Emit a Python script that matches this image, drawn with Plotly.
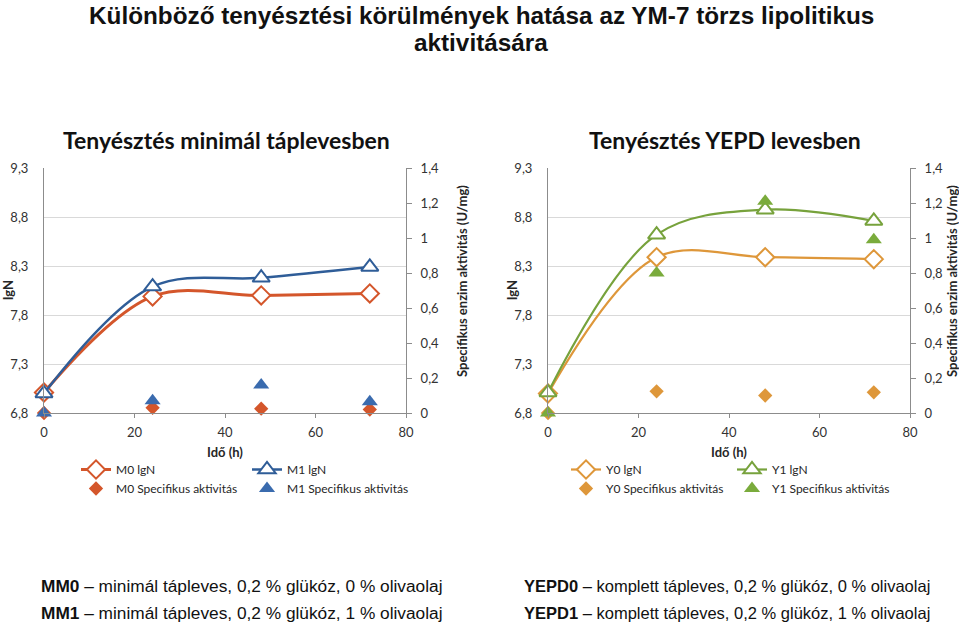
import plotly.graph_objects as go

# ---- data ----
time_h = [0, 24, 48, 72]
M0_lgN = [7.01, 7.99, 8.00, 8.02]
M1_lgN = [7.00, 8.09, 8.18, 8.29]
M0_spec = [0.0, 0.03, 0.025, 0.02]
M1_spec = [0.0, 0.07, 0.16, 0.065]
Y0_lgN = [7.00, 8.39, 8.39, 8.37]
Y1_lgN = [7.01, 8.62, 8.875, 8.76]
Y0_spec = [0.0, 0.124, 0.10, 0.118]
Y1_spec = [0.0, 0.80, 1.21, 0.99]

lgN_ticks = [6.8, 7.3, 7.8, 8.3, 8.8, 9.3]
spec_ticks = [0, 0.2, 0.4, 0.6, 0.8, 1.0, 1.2, 1.4]
x_ticks = [0, 20, 40, 60, 80]

title_lines = ["Különböző tenyésztési körülmények hatása az YM-7 törzs lipolitikus",
               "aktivitására"]
sub_left = "Tenyésztés minimál táplevesben"
sub_right = "Tenyésztés YEPD levesben"
y_title = "lgN"
y2_title = "Specifikus enzim aktivitás (U/mg)"
x_title = "Idő (h)"
notes_left = ["<b>MM0</b> – minimál tápleves, 0,2 % glükóz, 0 % olivaolaj",
              "<b>MM1</b> – minimál tápleves, 0,2 % glükóz, 1 % olivaolaj"]
notes_right = ["<b>YEPD0</b> – komplett tápleves, 0,2 % glükóz, 0 % olivaolaj",
               "<b>YEPD1</b> – komplett tápleves, 0,2 % glükóz, 1 % olivaolaj"]

C_M0 = "#D4562B"
C_M1 = "#2F5D98"
C_Y0 = "#DE973A"
C_Y1 = "#77A23C"

W, H = 959, 624
def px_x(p): return p / W
def px_y(p): return 1 - p / H

FONT = "Lato, Open Sans, sans-serif"
ARIAL = "Liberation Sans, Arial, sans-serif"
fig = go.Figure()

def add_line(x, y, name, color, symbol, size, width, xa, ya, legend):
    fig.add_trace(go.Scatter(x=x, y=y, name=name, mode="lines+markers",
                             line=dict(color=color, width=width, shape="spline", smoothing=1),
                             marker=dict(symbol=symbol, size=size, color="white",
                                         line=dict(color=color, width=2)),
                             xaxis=xa, yaxis=ya, legend=legend, cliponaxis=False))

def add_pts(x, y, name, color, symbol, size, xa, ya, legend):
    fig.add_trace(go.Scatter(x=x, y=y, name=name, mode="markers",
                             marker=dict(symbol=symbol, size=size, color=color),
                             xaxis=xa, yaxis=ya, legend=legend, cliponaxis=False))

add_line(time_h, M0_lgN, "M0 lgN", C_M0, "diamond", 14, 3, "x", "y", "legend")
add_pts(time_h, M0_spec, "M0 Specifikus aktivitás", C_M0, "diamond", 11, "x", "y2", "legend")
add_line(time_h, M1_lgN, "M1 lgN", C_M1, "triangle-up", 15, 2.5, "x", "y", "legend2")
add_pts(time_h, M1_spec, "M1 Specifikus aktivitás", "#3A6BAE", "triangle-up", 14, "x", "y2", "legend2")

add_line(time_h, Y0_lgN, "Y0 lgN", C_Y0, "diamond", 14, 2.2, "x2", "y3", "legend3")
add_pts(time_h, Y0_spec, "Y0 Specifikus aktivitás", C_Y0, "diamond", 11, "x2", "y4", "legend3")
add_line(time_h, Y1_lgN, "Y1 lgN", C_Y1, "triangle-up", 15, 2.2, "x2", "y3", "legend4")
add_pts(time_h, Y1_spec, "Y1 Specifikus aktivitás", "#7AAB3C", "triangle-up", 14, "x2", "y4", "legend4")

AX = "#8C8C8C"
GRID = "#D9D9D9"
tickfont = dict(family=FONT, size=13, color="#333333")
ydom = [px_y(413), px_y(168)]

xcommon = dict(range=[0, 80], tickvals=x_ticks, showgrid=False, zeroline=False,
               showline=True, linecolor=AX, linewidth=1, ticks="outside", ticklen=4,
               tickcolor=AX, tickfont=tickfont, ticklabelstandoff=3)
ycommon = dict(range=[6.8, 9.3], tickvals=lgN_ticks, showgrid=True, gridcolor=GRID,
               zeroline=False, showline=True, linecolor=AX, linewidth=1, ticks="",
               tickfont=tickfont, ticklabelstandoff=12, domain=ydom)
y2common = dict(range=[0, 1.4], tickvals=spec_ticks, showgrid=False, zeroline=False,
                showline=True, linecolor=AX, linewidth=1, ticks="outside", ticklen=5,
                tickcolor=AX, tickfont=tickfont, side="right", ticklabelstandoff=6)

leg_common = dict(font=dict(family=FONT, size=12, color="#262626"), bgcolor="rgba(0,0,0,0)",
                  orientation="v", xanchor="left", yanchor="top", tracegroupgap=0,
                  itemwidth=30, y=px_y(455))

fig.update_layout(
    width=W, height=H, margin=dict(l=0, r=0, t=0, b=0, autoexpand=False),
    paper_bgcolor="white", plot_bgcolor="white", separators=", ",
    xaxis=dict(domain=[px_x(44), px_x(406)], anchor="y", **xcommon),
    yaxis=dict(anchor="x", **ycommon),
    yaxis2=dict(overlaying="y", anchor="x", **y2common),
    xaxis2=dict(domain=[px_x(548), px_x(910)], anchor="y3", **xcommon),
    yaxis3=dict(anchor="x2", **ycommon),
    yaxis4=dict(overlaying="y3", anchor="x2", **y2common),
    legend=dict(x=px_x(76), **leg_common),
    legend2=dict(x=px_x(247), **leg_common),
    legend3=dict(x=px_x(566), **leg_common),
    legend4=dict(x=px_x(732), **leg_common),
    showlegend=True,
)

def note(text, x, y, size, family, color="#111111", xanchor="center", angle=0):
    return dict(text=text, x=px_x(x), y=px_y(y), xref="paper", yref="paper",
                xanchor=xanchor, yanchor="middle", showarrow=False, textangle=angle,
                font=dict(family=family, size=size, color=color))

ann = [note(f"<b>{title_lines[0]}</b>", 481, 15, 24.3, ARIAL),
       note(f"<b>{title_lines[1]}</b>", 481, 43, 24.3, ARIAL),
       note(f"<b>{sub_left}</b>", 226, 140, 23, FONT),
       note(f"<b>{sub_right}</b>", 725, 140, 23, FONT)]
for cx in (225, 729):
    ann.append(note(f"<b>{x_title}</b>", cx, 452, 13, FONT, "#262626"))
for lx in (8, 512):
    ann.append(note(f"<b>{y_title}</b>", lx, 290, 13, FONT, "#262626", angle=-90))
for rx in (462, 952):
    ann.append(note(f"<b>{y2_title}</b>", rx, 281, 13, FONT, "#262626", angle=-90))
for i, t in enumerate(notes_left):
    ann.append(note(t, 39, 586 + 27 * i, 17.3, ARIAL, xanchor="left"))
for i, t in enumerate(notes_right):
    ann.append(note(t, 522, 586 + 27 * i, 16.5, ARIAL, xanchor="left"))
fig.update_layout(annotations=ann)

fig.write_html("out.html", config={"displayModeBar": False},
               post_script="document.body.style.margin='0';")
